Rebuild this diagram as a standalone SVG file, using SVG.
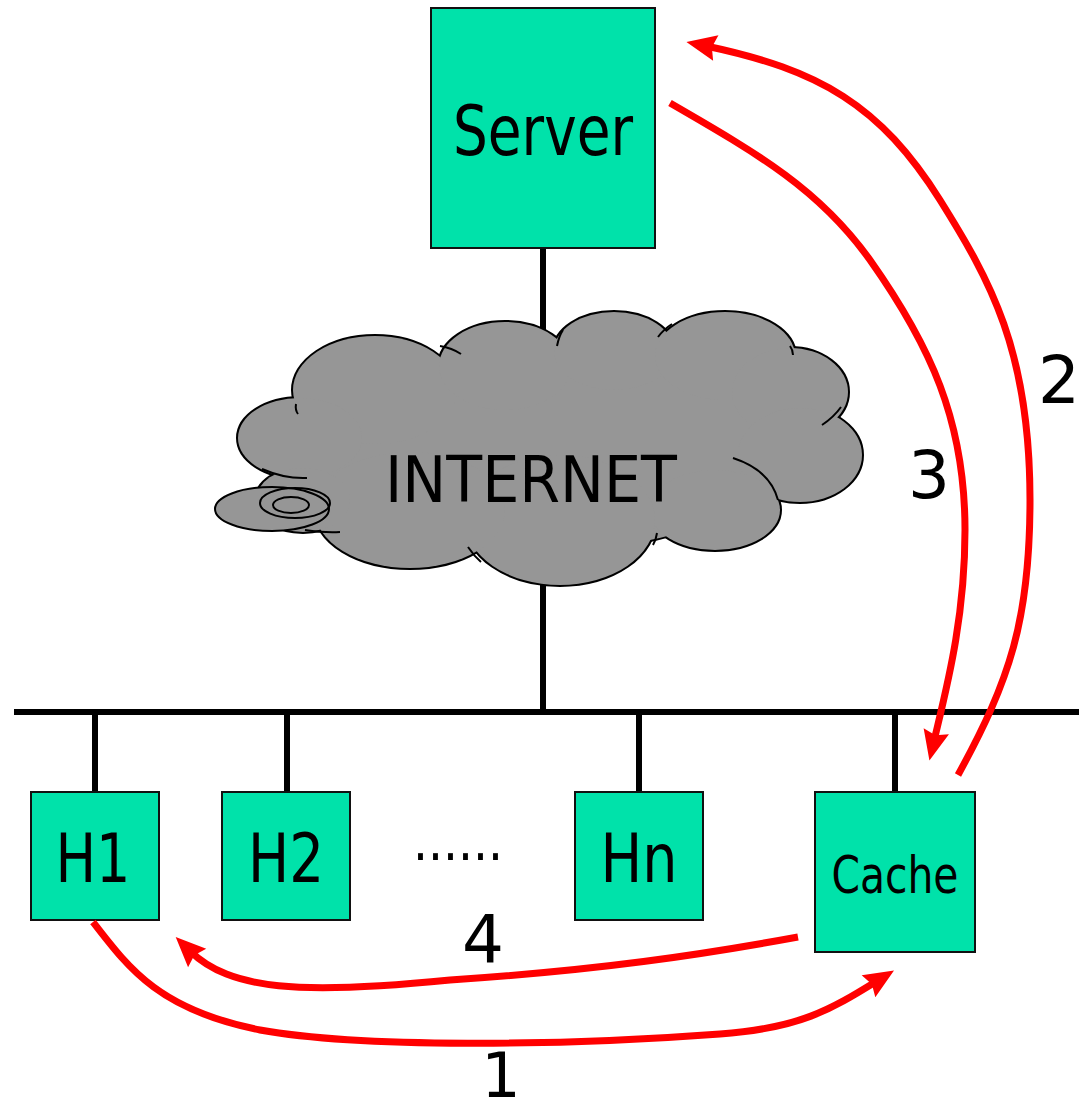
<svg xmlns="http://www.w3.org/2000/svg" width="1079" height="1107" viewBox="0 0 1079 1107">
<style>
.box{fill:#00E2AA;stroke:#111;stroke-width:2}
.lbl{font-family:"DejaVu Sans",Tahoma,sans-serif;fill:#000;text-anchor:middle}
.wire{stroke:#000;stroke-width:6;fill:none}
.arr{stroke:#FF0000;stroke-width:7;fill:none;marker-end:url(#ah)}
.cl{fill:#969696;stroke:#000;stroke-width:4}
.cf{fill:#969696;stroke:none}
.tick{fill:none;stroke:#000;stroke-width:2}
</style>
<defs>
<marker id="ah" markerUnits="userSpaceOnUse" markerWidth="34" markerHeight="30" refX="10" refY="13" orient="auto" overflow="visible">
<path d="M0,0 L30,13 L0,26 L4,13 z" fill="#FF0000"/>
</marker>
</defs>

<g id="wires">
<line class="wire" x1="543" y1="248" x2="543" y2="330"/>
<line class="wire" x1="543" y1="580" x2="543" y2="712"/>
<line class="wire" x1="14" y1="712" x2="1079" y2="712"/>
<line class="wire" x1="95" y1="712" x2="95" y2="792"/>
<line class="wire" x1="287" y1="712" x2="287" y2="792"/>
<line class="wire" x1="639" y1="712" x2="639" y2="792"/>
<line class="wire" x1="895" y1="712" x2="895" y2="792"/>
</g>

<g id="internet">
<g class="cl">
<ellipse cx="550" cy="450" rx="230" ry="100"/>
<ellipse cx="375" cy="390" rx="82" ry="54"/>
<ellipse cx="505" cy="366" rx="66" ry="44"/>
<ellipse cx="614" cy="351" rx="60" ry="39"/>
<ellipse cx="725" cy="356" rx="70" ry="44"/>
<ellipse cx="790" cy="392" rx="58" ry="44"/>
<ellipse cx="800" cy="455" rx="62" ry="47"/>
<ellipse cx="715" cy="510" rx="65" ry="40"/>
<ellipse cx="560" cy="520" rx="95" ry="65"/>
<ellipse cx="410" cy="510" rx="95" ry="58"/>
<ellipse cx="300" cy="438" rx="62" ry="40"/>
<ellipse cx="303" cy="500" rx="47" ry="32"/>
</g>
<g class="cf">
<ellipse cx="550" cy="450" rx="230" ry="100"/>
<ellipse cx="375" cy="390" rx="82" ry="54"/>
<ellipse cx="505" cy="366" rx="66" ry="44"/>
<ellipse cx="614" cy="351" rx="60" ry="39"/>
<ellipse cx="725" cy="356" rx="70" ry="44"/>
<ellipse cx="790" cy="392" rx="58" ry="44"/>
<ellipse cx="800" cy="455" rx="62" ry="47"/>
<ellipse cx="715" cy="510" rx="65" ry="40"/>
<ellipse cx="560" cy="520" rx="95" ry="65"/>
<ellipse cx="410" cy="510" rx="95" ry="58"/>
<ellipse cx="300" cy="438" rx="62" ry="40"/>
<ellipse cx="303" cy="500" rx="47" ry="32"/>
</g>
<path class="tick" d="M440,346 Q452,348 461,354"/>
<path class="tick" d="M557,346 Q559,336 563,330"/>
<path class="tick" d="M658,337 Q664,329 672,324"/>
<path class="tick" d="M790,346 Q793,350 793,355"/>
<path class="tick" d="M822,425 Q834,417 841,407"/>
<path class="tick" d="M733,458 Q770,470 778,500"/>
<path class="tick" d="M653,545 Q656,540 657,533"/>
<path class="tick" d="M468,547 Q474,556 481,562"/>
<path class="tick" d="M296,404 Q295,410 298,414"/>
<path class="tick" d="M262,469 Q285,479 307,478"/>
<path class="tick" d="M305,530 Q325,533 340,532"/>
<ellipse cx="272" cy="509" rx="57" ry="22" fill="#969696" stroke="#000" stroke-width="2"/>
<ellipse cx="295" cy="503" rx="35" ry="15" fill="none" stroke="#000" stroke-width="2"/>
<ellipse cx="291" cy="505" rx="18" ry="8" fill="none" stroke="#000" stroke-width="2"/>
<text class="lbl" x="531" y="502" font-size="64" textLength="292" lengthAdjust="spacingAndGlyphs">INTERNET</text>
</g>

<g id="server">
<rect class="box" x="431" y="8" width="224" height="240"/>
<text class="lbl" x="543" y="155" font-size="70" textLength="180" lengthAdjust="spacingAndGlyphs">Server</text>
</g>

<g id="h1">
<rect class="box" x="31" y="792" width="128" height="128"/>
<text class="lbl" x="93" y="882" font-size="67" textLength="75" lengthAdjust="spacingAndGlyphs">H1</text>
</g>
<g id="h2">
<rect class="box" x="222" y="792" width="128" height="128"/>
<text class="lbl" x="286" y="882" font-size="67" textLength="76" lengthAdjust="spacingAndGlyphs">H2</text>
</g>
<g id="dots">
<text class="lbl" x="458" y="860" font-size="56" textLength="90" lengthAdjust="spacingAndGlyphs">......</text>
</g>
<g id="hn">
<rect class="box" x="575" y="792" width="128" height="128"/>
<text class="lbl" x="639" y="882" font-size="67" textLength="77" lengthAdjust="spacingAndGlyphs">Hn</text>
</g>
<g id="cache">
<rect class="box" x="815" y="792" width="160" height="160"/>
<text class="lbl" x="895" y="893" font-size="52" textLength="127" lengthAdjust="spacingAndGlyphs">Cache</text>
</g>

<g id="connectors">
<path class="arr" d="M958,775 C1010,680 1030,620 1030,500 C1030,350 990,280 940,200 C880,105 820,70 706,46"/>
<path class="arr" d="M670,103 C760,155 820,190 870,260 C930,345 965,420 965,530 C965,620 946,690 934,741"/>
<path class="arr" d="M93,922 C130,970 160,1010 260,1030 C360,1048 560,1046 720,1034 C800,1028 830,1010 877,981"/>
<path class="arr" d="M798,937 C700,955 600,970 450,980 C300,995 230,990 190,951"/>
</g>

<g id="labels">
<text class="lbl" x="1059" y="403" font-size="66">2</text>
<text class="lbl" x="929" y="498" font-size="66">3</text>
<text class="lbl" x="483" y="962" font-size="66">4</text>
<text class="lbl" x="501" y="1097" font-size="62">1</text>
</g>
</svg>
